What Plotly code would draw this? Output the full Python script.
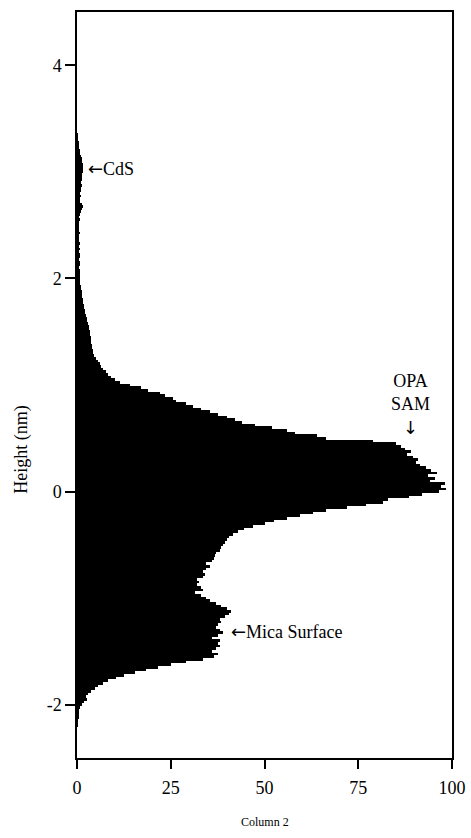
import plotly.graph_objects as go

# Histogram of heights: bin start (nm), bin width (nm), and counts per bin
HEIGHT_START = -2.2
BIN_WIDTH = 0.025
counts = [
    0.1, 0.2, 0.2, 0.3, 0.3, 0.4, 0.6, 0.9, 1.3, 1.8,          # -2.200 .. -1.975
    2.6, 2.4, 3.0, 3.8, 4.8, 5.6, 7.0, 8.2, 10.5, 12.5,         # -1.950 .. -1.725
    15.5, 18.5, 21.5, 25.0, 29.0, 33.5, 36.5, 37.5, 36.0, 37.0, # -1.700 .. -1.475
    38.0, 37.5, 38.0, 36.0, 37.5, 39.0, 38.0, 37.0, 37.5, 38.5, # -1.450 .. -1.225
    38.0, 39.5, 40.5, 41.0, 40.0, 38.5, 37.0, 35.5, 34.5, 33.0, # -1.200 .. -0.975
    31.5, 33.5, 33.0, 32.0, 32.5, 32.0, 33.5, 34.0, 33.5, 34.5, # -0.950 .. -0.725
    35.5, 34.5, 36.0, 36.5, 36.8, 37.0, 38.0, 38.5, 39.0, 39.5, # -0.700 .. -0.475
    40.0, 40.5, 41.5, 43.0, 44.5, 47.0, 50.0, 52.5, 56.0, 59.5, # -0.450 .. -0.225
    63.0, 66.5, 72.0, 77.0, 81.5, 83.0, 88.5, 92.0, 96.5, 98.5, # -0.200 .. 0.025
    97.0, 98.0, 94.0, 95.5, 93.5, 96.0, 94.5, 93.0, 91.5, 90.5, # 0.050 .. 0.275
    91.0, 89.5, 88.0, 89.0, 87.5, 86.5, 85.0, 79.0, 66.5, 64.0, # 0.300 .. 0.525
    58.0, 56.0, 52.0, 47.5, 44.0, 42.0, 40.0, 37.5, 35.5, 33.0, # 0.550 .. 0.775
    31.0, 29.0, 26.5, 25.5, 23.5, 22.0, 19.0, 17.0, 14.0, 11.5, # 0.800 .. 1.025
    10.0, 9.0, 8.2, 7.6, 7.0, 6.3, 6.0, 5.6, 5.0, 4.6,          # 1.050 .. 1.275
    4.3, 4.3, 4.0, 3.9, 3.7, 3.7, 3.6, 3.5, 3.4, 3.3,           # 1.300 .. 1.525
    3.1, 2.9, 2.7, 2.6, 2.4, 2.2, 2.1, 1.9, 1.8, 1.7,           # 1.550 .. 1.775
    1.6, 1.4, 1.3, 1.2, 1.1, 1.0, 0.9, 0.8, 0.8, 0.7,           # 1.800 .. 2.025
    0.8, 0.7, 0.6, 0.8, 0.7, 0.6, 0.7, 0.8, 0.6, 0.7,           # 2.050 .. 2.275
    0.6, 0.7, 0.5, 0.6, 0.5, 0.7, 0.6, 0.5, 0.6, 0.5,           # 2.300 .. 2.525
    0.7, 0.6, 0.8, 1.0, 1.3, 1.5, 1.2, 0.9, 0.8, 1.0,           # 2.550 .. 2.775
    0.9, 1.1, 1.0, 1.2, 1.1, 1.3, 1.2, 1.4, 1.5, 1.6,           # 2.800 .. 3.025
    1.5, 1.7, 1.4, 1.2, 1.0, 0.9, 0.7, 0.5, 0.4, 0.3,           # 3.050 .. 3.275
    0.2, 0.15, 0.1,                                             # 3.300 .. 3.350
]
heights = [round(HEIGHT_START + i * BIN_WIDTH, 4) for i in range(len(counts))]

x_ticks = [0, 25, 50, 75, 100]
x_tick_text = ["0", "25", "50", "75", "100"]
y_ticks = [-2, 0, 2, 4]
y_tick_text = ["-2", "0", "2", "4"]

ARROW = '<span style="font-family:DejaVu Sans">%s</span>'
# Annotation labels and their data anchors
labels = [ARROW % "\u2190" + "CdS",
          "OPA<br>SAM<br>" + ARROW % "\u2193",
          ARROW % "\u2190" + "Mica Surface"]
label_x = [2.5, 89, 40.5]
label_y = [3.03, 0.82, -1.31]
label_anchor = ["left", "center", "left"]

FONT = "Liberation Serif, Times New Roman, serif"

fig = go.Figure()
fig.add_trace(go.Bar(
    x=counts, y=heights, orientation="h", width=BIN_WIDTH,
    marker=dict(color="black", line=dict(width=0)),
    showlegend=False, hoverinfo="skip",
))

for t, xa, ya, anc in zip(labels, label_x, label_y, label_anchor):
    fig.add_annotation(
        x=xa, y=ya, text=t, showarrow=False, xanchor=anc, yanchor="middle",
        align="center", font=dict(family=FONT, size=18, color="black"),
    )

# Axis titles placed in paper coordinates
fig.add_annotation(x=-0.147, y=0.413, xref="paper", yref="paper", text="Height (nm)",
                   textangle=-90, showarrow=False, xanchor="center", yanchor="middle",
                   font=dict(family=FONT, size=18, color="black"))
fig.add_annotation(x=0.5, y=-0.086, xref="paper", yref="paper", text="Column 2",
                   showarrow=False, xanchor="center", yanchor="middle",
                   font=dict(family=FONT, size=12, color="black"))

fig.update_layout(
    width=471, height=838,
    margin=dict(l=77, r=19, t=12, b=80),
    paper_bgcolor="white", plot_bgcolor="white",
    bargap=0,
    font=dict(family=FONT, size=18, color="black"),
)
fig.update_xaxes(
    range=[0, 100], tickvals=x_ticks, ticktext=x_tick_text, ticks="outside", ticklen=9,
    tickwidth=1.5, tickcolor="black", showline=True, linecolor="black", linewidth=1.5,
    mirror=True, showgrid=False, zeroline=False, automargin=False, ticklabelstandoff=4,
    tickfont=dict(family=FONT, size=18),
)
fig.update_yaxes(
    range=[-2.5, 4.5], tickvals=y_ticks, ticktext=y_tick_text, ticks="outside", ticklen=10,
    tickwidth=1.5, tickcolor="black", showline=True, linecolor="black", linewidth=1.5,
    mirror=True, showgrid=False, zeroline=False, automargin=False,
    tickfont=dict(family=FONT, size=18),
)

fig.write_html("out.html")
